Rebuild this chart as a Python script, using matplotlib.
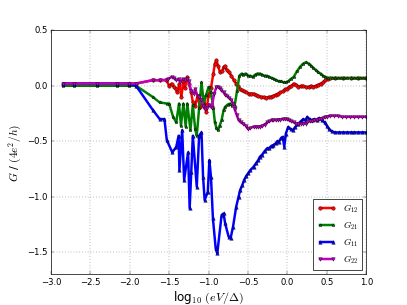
import matplotlib
matplotlib.use("Agg")
import matplotlib.pyplot as plt

plt.style.use("classic")

# G12 (red)
x_12 = [-2.84, -2.71, -2.41, -2.16, -2.01, -1.92, -1.71, -1.62, -1.535, -1.50, -1.47, -1.44,
        -1.41, -1.40, -1.37, -1.345, -1.32, -1.30, -1.27, -1.25, -1.22, -1.20, -1.17, -1.14,
        -1.11, -1.09, -1.06, -1.03, -1.00, -0.97, -0.94, -0.92, -0.90, -0.88, -0.855, -0.83,
        -0.81, -0.79, -0.77, -0.74, -0.71, -0.68, -0.65, -0.63, -0.60, -0.58, -0.55, -0.52,
        -0.49, -0.46, -0.43, -0.40, -0.37, -0.33, -0.30, -0.27, -0.24, -0.21, -0.18, -0.15,
        -0.12, -0.09, -0.06, -0.03, -0.01, 0.02, 0.05, 0.08, 0.11, 0.14, 0.17, 0.20, 0.23,
        0.27, 0.30, 0.33, 0.36, 0.39, 0.42, 0.45, 0.48, 0.51, 0.535, 0.60, 0.70, 0.80, 0.90, 1.00]
g_12 = [0.02, 0.02, 0.02, 0.02, 0.02, 0.02, 0.05, 0.05, 0.05, 0.0, 0.02, -0.01,
        -0.03, -0.06, 0.02, -0.10, 0.04, -0.02, 0.08, 0.02, -0.06, -0.15, -0.18, -0.09,
        -0.19, -0.16, -0.10, -0.24, -0.08, -0.02, 0.11, 0.20, 0.23, 0.18, 0.12, 0.13,
        0.17, 0.18, 0.14, 0.12, 0.09, 0.05, 0.02, 0.0, -0.03, -0.04, -0.05, -0.06,
        -0.07, -0.07, -0.07, -0.08, -0.09, -0.10, -0.10, -0.11, -0.10, -0.10, -0.09, -0.08,
        -0.07, -0.06, -0.05, -0.03, -0.03, -0.01, 0.0, 0.02, 0.01, -0.01, 0.0, 0.0, -0.01,
        -0.01, 0.0, -0.01, 0.0, 0.01, 0.02, 0.03, 0.05, 0.06, 0.07, 0.07, 0.07, 0.07, 0.07, 0.07]

# G21 (green)
x_21 = [-2.84, -2.71, -2.41, -2.16, -2.01, -1.92, -1.71, -1.62, -1.53, -1.50, -1.45, -1.41,
        -1.375, -1.35, -1.32, -1.29, -1.27, -1.23, -1.20, -1.17, -1.15, -1.12, -1.09, -1.06,
        -1.03, -1.00, -0.97, -0.94, -0.92, -0.90, -0.88, -0.86, -0.835, -0.81, -0.79, -0.76,
        -0.73, -0.70, -0.67, -0.64, -0.61, -0.58, -0.56, -0.53, -0.50, -0.47, -0.44, -0.41,
        -0.38, -0.35, -0.32, -0.29, -0.26, -0.23, -0.20, -0.17, -0.14, -0.11, -0.08, -0.05,
        -0.02, 0.01, 0.04, 0.08, 0.12, 0.16, 0.20, 0.23, 0.27, 0.30, 0.33, 0.36, 0.39, 0.42,
        0.45, 0.48, 0.52, 0.56, 0.60, 0.64, 0.68, 0.72, 0.76, 0.80, 0.84, 0.88, 0.92, 0.96, 1.00]
g_21 = [0.0, 0.0, 0.0, 0.0, 0.0, 0.0, -0.10, -0.15, -0.16, -0.16, -0.28, -0.33,
        -0.16, -0.36, -0.16, -0.37, -0.16, -0.40, -0.17, -0.39, -0.45, -0.20, 0.03, -0.16,
        -0.08, -0.01, -0.06, -0.20, -0.33, -0.38, -0.40, -0.36, -0.31, -0.22, -0.19, -0.17,
        -0.16, -0.18, -0.18, -0.05, 0.09, 0.11, 0.10, 0.11, 0.09, 0.09, 0.08, 0.10,
        0.11, 0.11, 0.10, 0.09, 0.09, 0.08, 0.07, 0.06, 0.05, 0.04, 0.04, 0.03,
        0.03, 0.04, 0.06, 0.08, 0.13, 0.17, 0.20, 0.21, 0.20, 0.18, 0.16, 0.14, 0.12, 0.11,
        0.09, 0.08, 0.07, 0.07, 0.07, 0.07, 0.07, 0.07, 0.07, 0.07, 0.07, 0.07, 0.07, 0.07, 0.07]

# G11 (blue)
x_11 = [-2.84, -2.71, -2.41, -2.16, -2.01, -1.92, -1.71, -1.62, -1.56, -1.53, -1.46, -1.41,
        -1.38, -1.37, -1.335, -1.31, -1.26, -1.24, -1.22, -1.20, -1.15, -1.12, -1.09, -1.07,
        -1.05, -1.01, -0.99, -0.97, -0.945, -0.91, -0.89, -0.835, -0.81, -0.79, -0.746, -0.72,
        -0.69, -0.65, -0.62, -0.60, -0.57, -0.55, -0.52, -0.50, -0.47, -0.43, -0.40, -0.37,
        -0.35, -0.32, -0.29, -0.26, -0.23, -0.20, -0.18, -0.15, -0.13, -0.11, -0.08, -0.06,
        -0.04, -0.02, 0.01, 0.04, 0.07, 0.10, 0.14, 0.17, 0.20, 0.23, 0.25, 0.28, 0.31, 0.34,
        0.37, 0.40, 0.44, 0.47, 0.50, 0.53, 0.56, 0.60, 0.65, 0.70, 0.75, 0.80, 0.85, 0.90,
        0.95, 1.00]
g_11 = [0.02, 0.02, 0.02, 0.02, 0.02, 0.0, -0.215, -0.30, -0.30, -0.49, -0.60, -0.55,
        -0.45, -0.76, -0.40, -0.85, -0.60, -1.105, -0.78, -0.45, -0.91, -0.45, -0.42, -0.82,
        -1.03, -0.955, -0.67, -0.82, -1.195, -1.465, -1.51, -1.165, -1.15, -1.24, -1.36, -1.37,
        -1.27, -1.09, -1.0, -0.94, -0.89, -0.85, -0.81, -0.79, -0.76, -0.73, -0.70, -0.67,
        -0.64, -0.62, -0.59, -0.565, -0.56, -0.54, -0.535, -0.52, -0.50, -0.505, -0.47, -0.46,
        -0.55, -0.43, -0.37, -0.39, -0.40, -0.37, -0.34, -0.32, -0.30, -0.31, -0.28, -0.30,
        -0.31, -0.30, -0.31, -0.29, -0.31, -0.33, -0.36, -0.39, -0.41, -0.42, -0.42, -0.42,
        -0.42, -0.42, -0.42, -0.42, -0.42, -0.42]

# G22 (magenta)
x_22 = [-2.84, -2.71, -2.41, -2.16, -2.01, -1.92, -1.71, -1.62, -1.53, -1.515, -1.47, -1.44,
        -1.41, -1.38, -1.36, -1.33, -1.30, -1.27, -1.25, -1.22, -1.19, -1.17, -1.14, -1.12,
        -1.09, -1.07, -1.05, -1.02, -0.99, -0.96, -0.93, -0.90, -0.88, -0.86, -0.84, -0.81,
        -0.79, -0.77, -0.74, -0.71, -0.69, -0.67, -0.645, -0.62, -0.59, -0.56, -0.53, -0.50,
        -0.47, -0.43, -0.40, -0.37, -0.35, -0.32, -0.29, -0.26, -0.23, -0.20, -0.18, -0.15,
        -0.12, -0.09, -0.06, -0.03, -0.01, 0.02, 0.05, 0.08, 0.11, 0.14, 0.17, 0.20, 0.23,
        0.25, 0.28, 0.31, 0.34, 0.37, 0.40, 0.42, 0.45, 0.48, 0.50, 0.54, 0.59, 0.64, 0.69,
        0.74, 0.79, 0.84, 0.89, 0.94, 1.00]
g_22 = [0.02, 0.02, 0.02, 0.02, 0.02, 0.02, 0.05, 0.05, 0.055, 0.06, 0.08, 0.07,
        0.05, 0.06, 0.03, 0.06, 0.05, 0.06, 0.04, -0.05, -0.07, -0.03, -0.09, -0.10,
        -0.13, -0.18, -0.21, -0.20, -0.17, -0.20, -0.07, -0.01, -0.01, -0.02, -0.04, -0.06,
        -0.08, -0.09, -0.11, -0.13, -0.16, -0.21, -0.26, -0.31, -0.33, -0.34, -0.36, -0.39,
        -0.38, -0.37, -0.37, -0.37, -0.37, -0.36, -0.35, -0.33, -0.32, -0.31, -0.31, -0.31,
        -0.305, -0.305, -0.30, -0.30, -0.30, -0.31, -0.32, -0.33, -0.34, -0.34, -0.34, -0.34,
        -0.34, -0.33, -0.32, -0.32, -0.31, -0.31, -0.30, -0.30, -0.29, -0.28, -0.28, -0.27,
        -0.27, -0.27, -0.28, -0.28, -0.28, -0.28, -0.28, -0.28, -0.28]

fig = plt.figure(figsize=(8, 6), dpi=50.875)
ax = fig.add_subplot(111)

ax.plot(x_12, g_12, "r-o", lw=3.5, ms=5, label=r"$G_{12}$")
ax.plot(x_21, g_21, "g-*", lw=3.5, ms=5, label=r"$G_{21}$")
ax.plot(x_11, g_11, "b-^", lw=3.5, ms=5, label=r"$G_{11}$")
ax.plot(x_22, g_22, "m-v", lw=3.5, ms=5, label=r"$G_{22}$")

ax.set_xlim(-3, 1)
ax.set_ylim(-1.7, 0.5)
ax.set_xticks([-3.0, -2.5, -2.0, -1.5, -1.0, -0.5, 0.0, 0.5, 1.0])
ax.set_yticks([-1.5, -1.0, -0.5, 0.0, 0.5])
ax.grid(True)
ax.set_xlabel(r"log$_{10}$ $(eV/\Delta)$", fontsize=17)
ax.set_ylabel(r"$G$ / $(4e^2/h)$", fontsize=16)
ax.legend(loc="lower right", fontsize=13)

fig.savefig("out.png", dpi=50.875)
